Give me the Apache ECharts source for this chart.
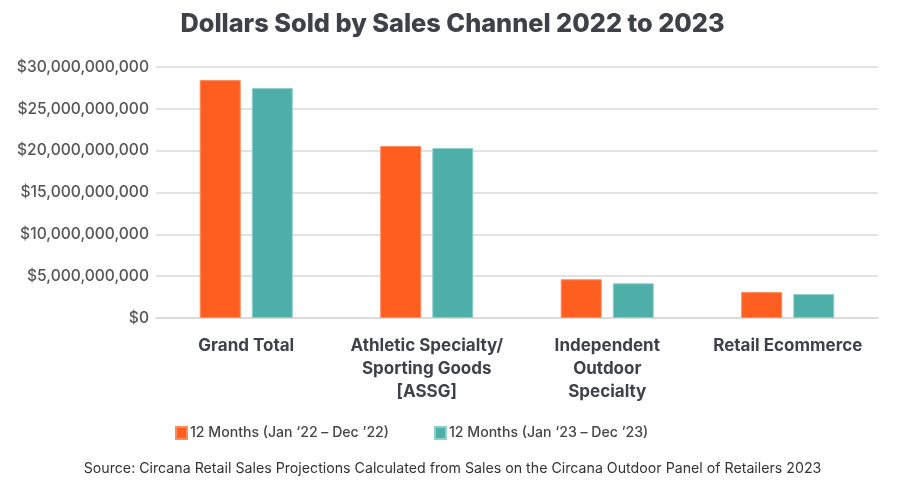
<!DOCTYPE html>
<html>
<head>
<meta charset="utf-8">
<script src="https://cdn.jsdelivr.net/npm/echarts@6/dist/echarts.min.js"></script>
<style>
html,body{margin:0;padding:0;background:#fff;}
#chart{width:905px;height:487px;}
</style>
</head>
<body>
<div id="chart"></div>
<script>
const categories = ['Grand Total', 'Athletic Specialty/\nSporting Goods\n[ASSG]', 'Independent\nOutdoor\nSpecialty', 'Retail Ecommerce'];
const seriesNames = ['12 Months (Jan \u201822 \u2013 Dec \u201922)', '12 Months (Jan \u201823 \u2013 Dec \u201923)'];
const values2022 = [28450000000, 20560000000, 4630000000, 3100000000];
const values2023 = [27490000000, 20320000000, 4150000000, 2870000000];
const titleText = 'Dollars Sold by Sales Channel 2022 to 2023';
const sourceText = 'Source: Circana Retail Sales Projections Calculated from Sales on the Circana Outdoor Panel of Retailers 2023';

const chart = echarts.init(document.getElementById('chart'));
const font = 'Inter, "Noto Sans", sans-serif';
chart.setOption({
  animation: false,
  backgroundColor: '#fff',
  title: [{
    text: titleText, left: 'center', top: 7,
    textStyle: {fontFamily: font, fontSize: 25.3, fontWeight: 800, color: '#3f4148'}
  }, {
    text: sourceText, left: 'center', top: 457,
    textStyle: {fontFamily: font, fontSize: 14.2, fontWeight: 400, color: '#333'}
  }],
  legend: {
    top: 421, left: 170, itemWidth: 11, itemHeight: 12, itemGap: 45,
    icon: 'rect',
    textStyle: {fontFamily: font, fontSize: 14.1, fontWeight: 500, color: '#444', padding: [0, 0, 0, -2]},
    data: seriesNames
  },
  grid: {left: 156, right: 27, top: 67, bottom: 169, containLabel: false},
  xAxis: {
    type: 'category', data: categories,
    axisLine: {show: true, lineStyle: {color: '#d9d9d9', width: 1.5}},
    axisTick: {show: false},
    axisLabel: {interval: 0, margin: 16, lineHeight: 23, fontFamily: font, fontSize: 17, fontWeight: 700, color: '#3f4148'}
  },
  yAxis: {
    type: 'value', min: 0, max: 30000000000, interval: 5000000000,
    axisLine: {show: false}, axisTick: {show: false},
    splitLine: {lineStyle: {color: '#d9d9d9', width: 1.5}},
    axisLabel: {margin: 7, fontFamily: font, fontSize: 15.6, fontWeight: 500, color: '#555',
      formatter: v => '$' + Math.round(v).toLocaleString('en-US')}
  },
  series: [{
    name: seriesNames[0], type: 'bar', data: values2022, barWidth: 41, barGap: '27%',
    itemStyle: {color: '#fe5f20', borderColor: '#ff8a5c', borderWidth: 1}
  }, {
    name: seriesNames[1], type: 'bar', data: values2023, barWidth: 41,
    itemStyle: {color: '#4eaea8', borderColor: '#8fd0cb', borderWidth: 1}
  }]
});
</script>
</body>
</html>
